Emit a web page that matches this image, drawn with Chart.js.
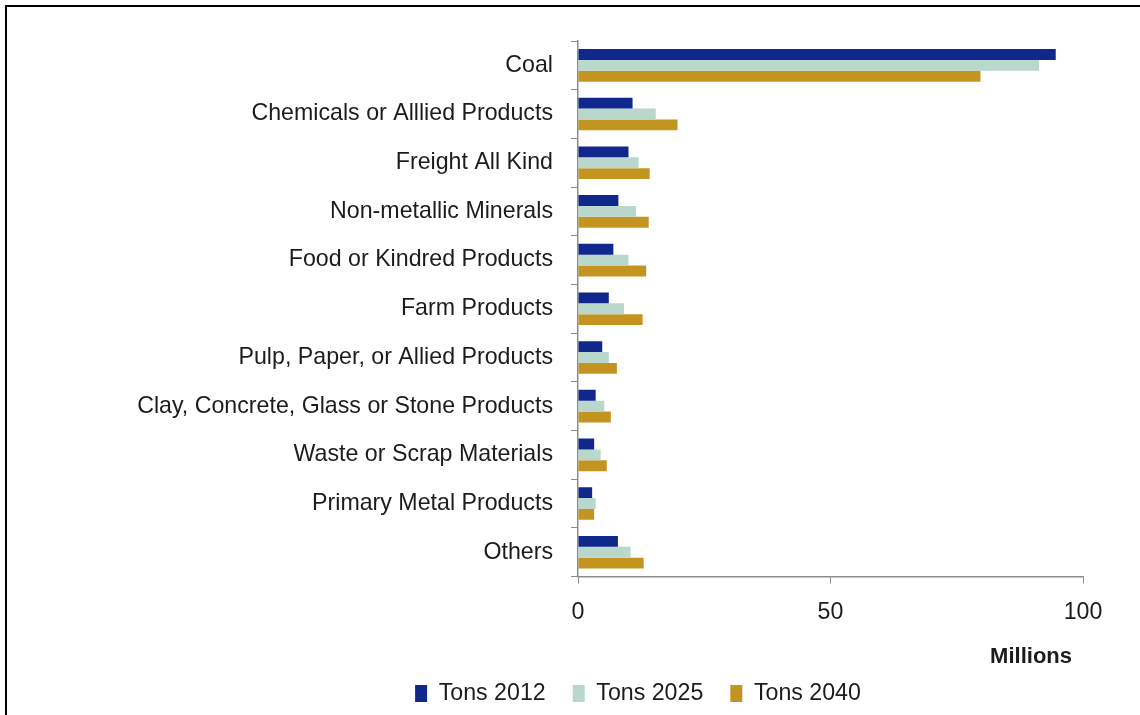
<!DOCTYPE html>
<html>
<head>
<meta charset="utf-8">
<script src="https://cdn.jsdelivr.net/npm/chart.js@4"></script>
<style>
  body { margin: 0; background: #fff; }
  #frame { position: absolute; left: 5px; top: 5px; width: 1135px; height: 710px; border-top: 2px solid #000; border-left: 2px solid #000; }
  #wrap { position: absolute; left: 136px; top: 0; width: 1004px; height: 715px; }
</style>
</head>
<body>
<div id="frame"></div>
<div id="wrap"><canvas id="chart" width="1004" height="715"></canvas></div>
<script>
var categories = ['Coal', 'Chemicals or Alllied Products', 'Freight All Kind', 'Non-metallic Minerals',
    'Food or Kindred Products', 'Farm Products', 'Pulp, Paper, or Allied Products',
    'Clay, Concrete, Glass or Stone Products', 'Waste or Scrap Materials', 'Primary Metal Products', 'Others']
var tons2012 = [94.6, 10.8, 10.0, 8.0, 7.0, 6.1, 4.8, 3.5, 3.2, 2.8, 7.9]
var tons2025 = [91.3, 15.4, 12.0, 11.5, 10.0, 9.1, 6.1, 5.2, 4.5, 3.5, 10.4]
var tons2040 = [79.7, 19.7, 14.2, 14.0, 13.5, 12.8, 7.7, 6.5, 5.7, 3.2, 13.0]
var xTicks = [0, 50, 100]

var font = "'Liberation Sans', Arial, sans-serif"
var textColor = '#1c1c1c'
var axisColor = '#8c8c8c'

function bar(label, data, color) {
    return { label: label, data: data, backgroundColor: color, categoryPercentage: 0.67, barPercentage: 1.0 }
}

new Chart('chart', {
    type: 'bar',
    data: {
        labels: categories,
        datasets: [
            bar('Tons 2012', tons2012, '#10278C'),
            bar('Tons 2025', tons2025, '#B9D8CB'),
            bar('Tons 2040', tons2040, '#C49420')
        ]
    },
    options: {
        indexAxis: 'y',
        responsive: false,
        animation: false,
        layout: { padding: { top: 41, bottom: 0 } },
        scales: {
            x: {
                min: 0,
                max: 100,
                afterBuildTicks: function (scale) { scale.ticks = xTicks.map(v => ({ value: v })) },
                grid: { drawOnChartArea: false, tickLength: 7, color: axisColor },
                border: { color: axisColor, width: 1.5 },
                ticks: { color: textColor, font: { family: font, size: 23.2 }, padding: 15 },
                title: { display: true, text: 'Millions\u2002', align: 'end', color: textColor,
                    font: { family: font, size: 22, weight: 'bold' }, padding: { top: 2, bottom: -15 } }
            },
            y: {
                afterFit: function (scale) { scale.width = 578 - 136 },
                grid: { drawOnChartArea: false, tickLength: 7, color: axisColor, offset: true },
                border: { color: axisColor, width: 1.5 },
                ticks: { color: textColor, font: { family: font, size: 23.2 }, padding: 18 }
            },
            // empty axis on the right, only to leave white space after the plot
            spacer: {
                type: 'linear',
                axis: 'y',
                position: 'right',
                afterFit: function (scale) { scale.width = 1140 - 1083 },
                grid: { display: false },
                border: { display: false },
                ticks: { display: false }
            }
        },
        plugins: {
            legend: {
                position: 'bottom',
                labels: { color: textColor, font: { family: font, size: 23.2 }, boxWidth: 12, boxHeight: 17, padding: 27 }
            },
            tooltip: { enabled: false }
        }
    }
})
</script>
</body>
</html>
